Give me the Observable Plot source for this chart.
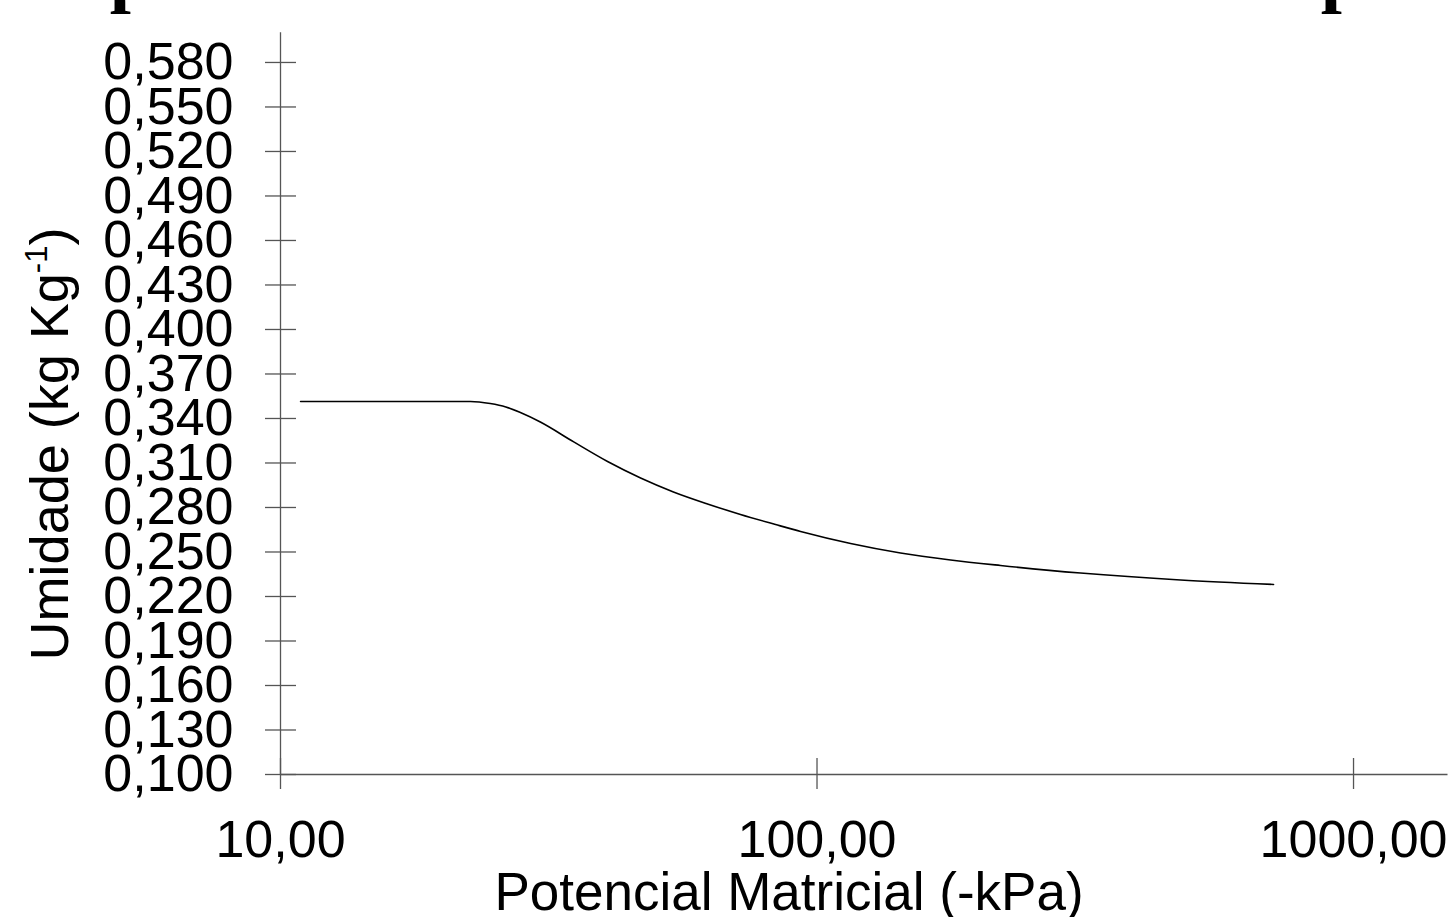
<!DOCTYPE html>
<html>
<head>
<meta charset="utf-8">
<script src="https://cdn.jsdelivr.net/npm/d3@7"></script>
<script src="https://cdn.jsdelivr.net/npm/@observablehq/plot@0.6"></script>
<style>
  html, body { margin: 0; padding: 0; background: #fff; overflow: hidden; }
  #chart { position: relative; width: 1451px; height: 917px; }
  #chart svg { display: block; }
</style>
</head>
<body>
<div id="chart"></div>
<script>
// Potencial matricial (-kPa)
const potencial = [10.9, 22.6, 24.6, 26.3, 28.0, 30.5, 35.2, 40.7, 46.9, 54.0, 62.5, 72.0, 83.7, 93.2, 115.5, 143.1, 177.4, 219.8, 309.8, 476.0, 709.5];
// Umidade (kg Kg-1)
const umidade = [0.3515, 0.3515, 0.3501, 0.3478, 0.3440, 0.3376, 0.3242, 0.3110, 0.2999, 0.2905, 0.2824, 0.2753, 0.2685, 0.2638, 0.2557, 0.2493, 0.2446, 0.2409, 0.2358, 0.2311, 0.2281];

const yTicks = [0.10, 0.13, 0.16, 0.19, 0.22, 0.25, 0.28, 0.31, 0.34, 0.37, 0.40, 0.43, 0.46, 0.49, 0.52, 0.55, 0.58];
const xTicks = [10, 100, 1000];
const xDomain = [10, 1500];
const yDomain = [0.10, 0.60];

const xLabel = "Potencial Matricial (-kPa)";
const yLabelMain = "Umidade (kg Kg";
const yLabelSup = "-1";
const yLabelEnd = ")";
const topFragments = ["p", "p"];

const data = potencial.map((p, i) => ({p, u: umidade[i]}));
const fmtY = d => d3.format(".3f")(d).replace(".", ",");
const fmtX = d => d3.format(".2f")(d).replace(".", ",");

const font = "'Liberation Sans', Arial, sans-serif";
const axisColor = "#555";

const chart = Plot.plot({
  width: 1451,
  height: 917,
  marginLeft: 280,
  marginRight: 3.5,
  marginTop: 32.3,
  marginBottom: 143,
  style: {fontFamily: font, fontSize: "52px", background: "#fff", color: "#000"},
  x: {type: "log", domain: xDomain},
  y: {domain: yDomain},
  marks: [
    // axis lines
    Plot.ruleX([xDomain[0]], {stroke: axisColor, strokeWidth: 1.3}),
    Plot.ruleY([yDomain[0]], {stroke: axisColor, strokeWidth: 1.3}),
    // crossing tick marks
    Plot.ruleY(yTicks, {y: d => d, x1: xDomain[0], x2: xDomain[0], insetLeft: -15, insetRight: -16, stroke: axisColor, strokeWidth: 1.3}),
    Plot.ruleX(xTicks, {x: d => d, y1: yDomain[0], y2: yDomain[0], insetTop: -16, insetBottom: -15, stroke: axisColor, strokeWidth: 1.3}),
    // tick labels
    Plot.axisY(yTicks, {tickSize: 0, tickPadding: 47, tickFormat: fmtY, label: null, fontSize: 52}),
    Plot.axisX(xTicks, {tickSize: 0, tickPadding: 46, tickFormat: fmtX, label: null, fontSize: 52}),
    // curve
    Plot.line(data, {x: "p", y: "u", stroke: "#000", strokeWidth: 1.6, curve: "monotone-x"})
  ]
});

const svg = d3.select(chart);
svg.style("overflow", "hidden");

// x axis title
svg.append("text")
  .attr("x", 789)
  .attr("y", 910)
  .attr("text-anchor", "middle")
  .attr("font-family", font)
  .attr("font-size", 53)
  .attr("fill", "#000")
  .text(xLabel);

// y axis title with superscript
const yl = svg.append("text")
  .attr("transform", "translate(68,444) rotate(-90)")
  .attr("text-anchor", "middle")
  .attr("font-family", font)
  .attr("font-size", 54)
  .attr("fill", "#000");
yl.append("tspan").text(yLabelMain);
yl.append("tspan").attr("font-size", 31).attr("dy", -21).text(yLabelSup);
yl.append("tspan").attr("dy", 21).text(yLabelEnd);

// cropped title fragments at the very top
const fragX = [131, 1342];
topFragments.forEach((t, i) => {
  svg.append("text")
    .attr("x", fragX[i])
    .attr("y", -2)
    .attr("font-family", "'Liberation Serif', 'DejaVu Serif', serif")
    .attr("font-weight", "bold")
    .attr("font-size", 76)
    .attr("fill", "#000")
    .text(t);
});

document.getElementById("chart").appendChild(chart);
</script>
</body>
</html>
